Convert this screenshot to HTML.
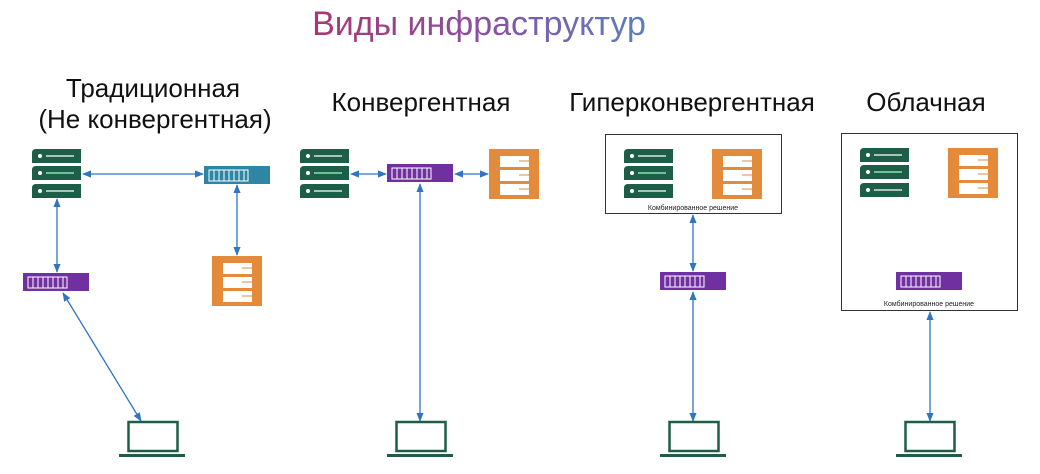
<!DOCTYPE html>
<html><head><meta charset="utf-8"><style>
html,body{margin:0;padding:0;background:#fff;}
svg{display:block;font-family:"Liberation Sans","DejaVu Sans",sans-serif;}
</style></head><body>
<svg width="1040" height="474" viewBox="0 0 1040 474" xmlns="http://www.w3.org/2000/svg">
<defs>
<linearGradient id="tg" x1="0" x2="1" y1="0" y2="0">
<stop offset="0" stop-color="#a8386e"/><stop offset="0.5" stop-color="#8a4fa0"/><stop offset="1" stop-color="#5a7fc0"/>
</linearGradient>
<marker id="ar" viewBox="0 0 10 10" refX="9" refY="5" markerWidth="7" markerHeight="7" orient="auto-start-reverse">
<path d="M0,1 L10,5 L0,9 z" fill="#2f75c0"/></marker>
<g id="srv">
<path d="M4,0 H49 V14 H0 V4 Q0,0 4,0 Z" fill="#1e5e48"/>
<circle cx="8" cy="7" r="2" fill="#fff"/><line x1="14" y1="7" x2="42" y2="7" stroke="#fff" stroke-width="1.2"/>
<path d="M4,17 H49 V31 H0 V21 Q0,17 4,17 Z" fill="#1e5e48"/>
<circle cx="8" cy="24" r="2" fill="#fff"/><line x1="14" y1="24" x2="42" y2="24" stroke="#9fc" stroke-width="1.2"/>
<path d="M4,35 H49 V49 H0 V39 Q0,35 4,35 Z" fill="#1e5e48"/>
<circle cx="8" cy="42" r="2" fill="#fff"/><line x1="14" y1="42" x2="42" y2="42" stroke="#fff" stroke-width="1.2"/>
</g>
<g id="stor">
<rect x="0" y="0" width="50" height="50" fill="#e38b3a"/>
<rect x="11" y="7" width="29" height="11" fill="#fff"/>
<rect x="11" y="21" width="29" height="11" fill="#fff"/>
<rect x="11" y="35" width="29" height="11" fill="#fff"/>
<line x1="30" y1="12" x2="40" y2="12" stroke="#e38b3a"/>
<line x1="30" y1="26" x2="40" y2="26" stroke="#e38b3a"/>
<line x1="30" y1="40" x2="40" y2="40" stroke="#e38b3a"/>
</g>
<g id="grid">
<rect x="5" y="4" width="39" height="11" fill="none" stroke="#fff" stroke-width="1"/>
<path d="M10,4V15M15,4V15M20,4V15M25,4V15M30,4V15M35,4V15M40,4V15" stroke="#fff" stroke-width="1"/>
</g>
<g id="sw"><rect x="0" y="0" width="66" height="18" fill="#7030a0"/><use href="#grid"/></g>
<g id="lap">
<rect x="9.5" y="1" width="49" height="29" fill="none" stroke="#1e5e48" stroke-width="2.5"/>
<rect x="0" y="33" width="66" height="3" fill="#1e5e48"/>
</g>
</defs>

<text x="479" y="35" text-anchor="middle" font-size="34" fill="url(#tg)">Виды инфраструктур</text>

<g font-size="26" fill="#111" text-anchor="middle">
<text x="153" y="97">Традиционная</text>
<text x="155" y="128">(Не конвергентная)</text>
<text x="421" y="111">Конвергентная</text>
<text x="692" y="111">Гиперконвергентная</text>
<text x="926" y="111">Облачная</text>
</g>

<g stroke="#2f75c0" stroke-width="1.3" fill="none" marker-start="url(#ar)" marker-end="url(#ar)">
<line x1="83" y1="174" x2="203" y2="174"/>
<line x1="57" y1="199" x2="57" y2="272"/>
<line x1="237" y1="185" x2="237" y2="255"/>
<line x1="63" y1="293" x2="141" y2="421"/>
<line x1="351" y1="174" x2="386" y2="174"/>
<line x1="455" y1="174" x2="488" y2="174"/>
<line x1="420" y1="184" x2="420" y2="421"/>
<line x1="693" y1="215" x2="693" y2="271"/>
<line x1="693" y1="292" x2="693" y2="421"/>
<line x1="930" y1="312" x2="930" y2="421"/>
</g>

<!-- col1 -->
<use href="#srv" x="32" y="149"/>
<rect x="204" y="166" width="66" height="18" fill="#2e86a4"/><use href="#grid" x="204" y="166"/>
<use href="#sw" x="23" y="273"/>
<use href="#stor" x="212" y="256"/>
<use href="#lap" x="119" y="421"/>

<!-- col2 -->
<use href="#srv" x="300" y="149"/>
<use href="#sw" x="387" y="164"/>
<use href="#stor" x="489" y="149"/>
<use href="#lap" x="387" y="421"/>

<!-- col3 -->
<rect x="605.5" y="134.5" width="176" height="79" fill="none" stroke="#333" stroke-width="1"/>
<use href="#srv" x="624" y="149"/>
<use href="#stor" x="712" y="149"/>
<text x="693" y="210" font-size="7" text-anchor="middle" fill="#222">Комбинированное решение</text>
<use href="#sw" x="660" y="272"/>
<use href="#lap" x="660" y="421"/>

<!-- col4 -->
<rect x="841.5" y="133.5" width="176" height="177" fill="none" stroke="#333" stroke-width="1"/>
<use href="#srv" x="860" y="148"/>
<use href="#stor" x="948" y="148"/>
<use href="#sw" x="896" y="272"/>
<text x="929" y="306" font-size="7" text-anchor="middle" fill="#222">Комбинированное решение</text>
<use href="#lap" x="896" y="421"/>
</svg>
</body></html>
